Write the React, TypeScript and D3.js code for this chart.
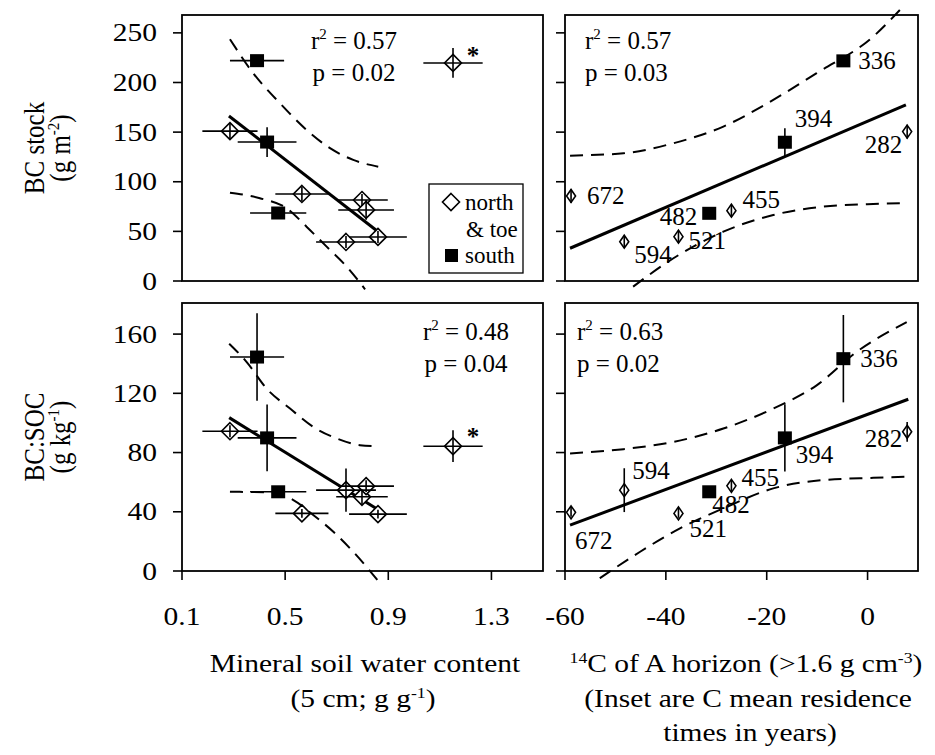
import React from "react";
import * as d3 from "d3";

const FONT = "'Liberation Serif','Times New Roman',Times,serif";
const AXIS_STRETCH = 1.18;

// ---------- Left column: sites vs mineral soil water content ----------
const siteAspect = ["south", "north", "south", "north", "north", "north", "south", "north", "north", "north"];
const siteOutlier = [false, false, false, false, false, false, false, false, false, true];
const waterContent = [0.391, 0.286, 0.43, 0.565, 0.798, 0.814, 0.473, 0.86, 0.736, 1.151];
const waterContentErr = [0.105, 0.107, 0.114, 0.103, 0.1, 0.108, 0.109, 0.112, 0.116, 0.115];
const bcStockW = [222, 151, 140, 87.7, 81.6, 71.6, 68.5, 44.4, 39.3, 219.7];
const bcStockWErr = [3, 8, 15, 7, 6, 10, 3, 6, 6, 15];
const bcSocW = [144.5, 94.4, 89.9, 38.9, 50.1, 57.3, 53.5, 38.4, 54.6, 84.3];
const bcSocWErr = [29.5, 4, 22.5, 3, 5, 4, 2, 3, 14.6, 10.7];

// ---------- Right column: sites vs 14C of A horizon ----------
const mrtLabels = ["336", "394", "282", "672", "482", "455", "521", "594"];
const c14Aspect = ["south", "south", "north", "north", "south", "north", "north", "north"];
const c14Value = [-4.8, -16.4, 7.85, -58.8, -31.4, -27.0, -37.5, -48.25];
const bcStockC = [221.8, 139.8, 150.5, 85.7, 68.2, 70.9, 44.7, 39.6];
const bcStockCErr = [3, 14, 7, 7, 3, 6, 6, 6];
const bcSocC = [143.4, 89.9, 94, 39.6, 53.5, 57.5, 38.9, 54.6];
const bcSocCErr = [29.5, 22.7, 6.7, 3, 2, 4, 3, 14.8];

// label placement (styling only): [dx, dy, anchor]
const mrtLabelPosTop: [number, number, string][] = [
  [15, 0, "start"], [10, -24, "start"], [-5, 13, "end"], [16, 0, "start"],
  [-12, 3, "end"], [11, -11, "start"], [10, 4, "start"], [10, 13, "start"],
];
const mrtLabelPosBottom: [number, number, string][] = [
  [17, 0, "start"], [11, 17, "start"], [-5, 7, "end"], [4, 28, "start"],
  [3, 13, "start"], [10, -8, "start"], [11, 15, "start"], [8, -20, "start"],
];

// ---------- Regression lines ----------
const fitStockWaterX = [0.282, 0.852];
const fitStockWaterY = [166.3, 51.4];
const fitStockC14X = [-59, 7.6];
const fitStockC14Y = [33, 177.4];
const fitSocWaterX = [0.283, 0.874];
const fitSocWaterY = [103.6, 40];
const fitSocC14X = [-59, 8.07];
const fitSocC14Y = [31, 116];

// ---------- Confidence bands ----------
const bandStockWaterUpX = [0.286, 0.376, 0.48, 0.583, 0.674, 0.764, 0.861];
const bandStockWaterUpY = [243.6, 209.4, 179.1, 152.2, 133.8, 122, 115.2];
const bandStockWaterLoX = [0.286, 0.402, 0.506, 0.583, 0.661, 0.739, 0.81];
const bandStockWaterLoY = [89, 83.4, 73.3, 54.7, 34.6, 14.4, -8.4];

const bandStockC14UpX = [-59, -48.4, -38.5, -28.6, -18.7, -10.1, 1.13, 6.4];
const bandStockC14UpY = [126.3, 128.7, 138.8, 155.6, 182.5, 209.4, 246.3, 273];
const bandStockC14LoX = [-46.5, -38.5, -28.6, -18.7, -8.8, 1.13, 6.77];
const bandStockC14LoY = [-5.7, 22.9, 49.7, 66.5, 74.9, 77.6, 78.3];

const bandSocWaterUpX = [0.283, 0.351, 0.428, 0.519, 0.609, 0.7, 0.79, 0.852];
const bandSocWaterUpY = [153.5, 141.1, 123.2, 109.7, 97.3, 89.5, 85, 84.3];
const bandSocWaterLoX = [0.286, 0.428, 0.532, 0.609, 0.687, 0.764, 0.861];
const bandSocWaterLoY = [53.5, 53.1, 47.9, 37.8, 26.5, 13, -6.7];

const bandSocC14UpX = [-59, -48.4, -38.5, -28.6, -18.7, -10.1, -2.2, 7.76];
const bandSocC14UpY = [79.4, 82.3, 87.2, 96.2, 109.7, 125.4, 147.9, 168.1];
const bandSocC14LoX = [-53.1, -45.1, -37.2, -28.6, -18.7, -8.8, 1.13, 7.42];
const bandSocC14LoY = [-4.9, 13, 28.8, 42.3, 55.8, 61.4, 62.9, 63.6];

// ---------- Ticks ----------
const stockTicks = [0, 50, 100, 150, 200, 250];
const socTicks = [0, 40, 80, 120, 160];
const waterTicks = [0.1, 0.5, 0.9, 1.3];
const c14Ticks = [-60, -40, -20, 0];

// ---------- Scales ----------
const xWater = d3.scaleLinear().domain([0.1, 1.5]).range([182, 543]);
const x14C = d3.scaleLinear().domain([-60, 10]).range([565, 918]);
const yStock = d3.scaleLinear().domain([0, 268]).range([281, 15]);
const ySoc = d3.scaleLinear().domain([0, 181]).range([571, 303]);

const zip = (xs: number[], ys: number[]) => xs.map((x, i) => [x, ys[i]] as [number, number]);

function pathOf(xs: number[], ys: number[], sx: any, sy: any, curve: any = d3.curveMonotoneX) {
  return d3.line<[number, number]>().x((d) => sx(d[0])).y((d) => sy(d[1])).curve(curve)(zip(xs, ys)) || "";
}

function AxisText({ x, y, anchor = "middle", rotate = false, children, size = 25 }: any) {
  const tr = `translate(${x},${y}) scale(${AXIS_STRETCH},1)${rotate ? " rotate(-90)" : ""}`;
  return (
    <text transform={tr} textAnchor={anchor} fontFamily={FONT} fontSize={size} fill="#000">
      {children}
    </text>
  );
}

function Marker({ cx, cy, kind, small }: any) {
  if (kind === "south") {
    return <rect x={cx - 7} y={cy - 6.5} width={14} height={13} fill="#000" />;
  }
  const hw = small ? 4.5 : 8.5;
  const hh = small ? 6.5 : 8.5;
  return (
    <path
      d={`M${cx},${cy - hh}L${cx + hw},${cy}L${cx},${cy + hh}L${cx - hw},${cy}Z`}
      fill="#fff"
      stroke="#000"
      strokeWidth={1.6}
    />
  );
}

function Panel({ sx, sy, xs, ys, xerr, yerr, kinds, small, fitX, fitY, upX, upY, loX, loY, yTicks, xTicks }: any) {
  const [x0, x1] = sx.range();
  const [y0, y1] = sy.range(); // y0 bottom, y1 top
  return (
    <g>
      <rect x={x0} y={y1} width={x1 - x0} height={y0 - y1} fill="none" stroke="#000" strokeWidth={1.8} />
      {yTicks.map((t: number) => (
        <line key={"yt" + t} x1={x0 - 9} x2={x0} y1={sy(t)} y2={sy(t)} stroke="#000" strokeWidth={1.6} />
      ))}
      {xTicks &&
        xTicks.map((t: number) => (
          <line key={"xt" + t} x1={sx(t)} x2={sx(t)} y1={y0} y2={y0 + 9} stroke="#000" strokeWidth={1.6} />
        ))}
      <path d={pathOf(upX, upY, sx, sy)} fill="none" stroke="#000" strokeWidth={2} strokeDasharray="13 8" />
      <path d={pathOf(loX, loY, sx, sy)} fill="none" stroke="#000" strokeWidth={2} strokeDasharray="13 8" />
      <path d={pathOf(fitX, fitY, sx, sy, d3.curveLinear)} fill="none" stroke="#000" strokeWidth={3} />
      {xs.map((xv: number, i: number) => (
        <Marker key={"m" + i} cx={sx(xv)} cy={sy(ys[i])} kind={kinds[i]} small={small} />
      ))}
      {xs.map((xv: number, i: number) => (
        <g key={"e" + i} stroke="#000" strokeWidth={1.6}>
          {xerr && (
            <line x1={sx(xv - xerr[i])} x2={sx(xv + xerr[i])} y1={sy(ys[i])} y2={sy(ys[i])} />
          )}
          {yerr && (
            <line x1={sx(xv)} x2={sx(xv)} y1={sy(ys[i] - yerr[i])} y2={sy(ys[i] + yerr[i])} />
          )}
        </g>
      ))}
    </g>
  );
}

function Stat({ x, y, anchor, r2, p }: any) {
  return (
    <g fontFamily={FONT} fontSize={25} fill="#000">
      <text x={x} y={y} textAnchor={anchor}>
        r<tspan dy={-10} fontSize={15}>2</tspan>
        <tspan dy={10}>{" = " + r2}</tspan>
      </text>
      <text x={x} y={y + 32} textAnchor={anchor}>
        {"p = " + p}
      </text>
    </g>
  );
}

export default function App() {
  return (
    <svg
      width={935}
      height={755}
      style={{ position: "absolute", left: 0, top: 0, background: "#fff" }}
    >
      <rect x={0} y={0} width={935} height={755} fill="#fff" />
      {/* Top-left */}
      <Panel
        sx={xWater} sy={yStock} xs={waterContent} ys={bcStockW} xerr={waterContentErr} yerr={bcStockWErr}
        kinds={siteAspect} small={false} fitX={fitStockWaterX} fitY={fitStockWaterY}
        upX={bandStockWaterUpX} upY={bandStockWaterUpY} loX={bandStockWaterLoX} loY={bandStockWaterLoY}
        yTicks={stockTicks} xTicks={null}
      />
      {/* Top-right */}
      <Panel
        sx={x14C} sy={yStock} xs={c14Value} ys={bcStockC} xerr={null} yerr={bcStockCErr}
        kinds={c14Aspect} small={true} fitX={fitStockC14X} fitY={fitStockC14Y}
        upX={bandStockC14UpX} upY={bandStockC14UpY} loX={bandStockC14LoX} loY={bandStockC14LoY}
        yTicks={stockTicks} xTicks={null}
      />
      {/* Bottom-left */}
      <Panel
        sx={xWater} sy={ySoc} xs={waterContent} ys={bcSocW} xerr={waterContentErr} yerr={bcSocWErr}
        kinds={siteAspect} small={false} fitX={fitSocWaterX} fitY={fitSocWaterY}
        upX={bandSocWaterUpX} upY={bandSocWaterUpY} loX={bandSocWaterLoX} loY={bandSocWaterLoY}
        yTicks={socTicks} xTicks={waterTicks}
      />
      {/* Bottom-right */}
      <Panel
        sx={x14C} sy={ySoc} xs={c14Value} ys={bcSocC} xerr={null} yerr={bcSocCErr}
        kinds={c14Aspect} small={true} fitX={fitSocC14X} fitY={fitSocC14Y}
        upX={bandSocC14UpX} upY={bandSocC14UpY} loX={bandSocC14LoX} loY={bandSocC14LoY}
        yTicks={socTicks} xTicks={c14Ticks}
      />

      {/* Y tick labels */}
      {stockTicks.map((t) => (
        <AxisText key={"sl" + t} x={157} y={yStock(t) + 8.5} anchor="end">{String(t)}</AxisText>
      ))}
      {socTicks.map((t) => (
        <AxisText key={"cl" + t} x={157} y={ySoc(t) + 8.5} anchor="end">{String(t)}</AxisText>
      ))}
      {/* X tick labels */}
      {waterTicks.map((t) => (
        <AxisText key={"wl" + t} x={xWater(t)} y={625}>{d3.format(".1f")(t)}</AxisText>
      ))}
      {c14Ticks.map((t) => (
        <AxisText key={"kl" + t} x={x14C(t)} y={625}>{String(t)}</AxisText>
      ))}

      {/* Y axis titles */}
      <AxisText x={44} y={(yStock.range()[0] + yStock.range()[1]) / 2} rotate>BC stock</AxisText>
      <AxisText x={70} y={(yStock.range()[0] + yStock.range()[1]) / 2} rotate>
        (g m<tspan dy={-9} fontSize={15}>-2</tspan><tspan dy={9}>)</tspan>
      </AxisText>
      <AxisText x={44} y={(ySoc.range()[0] + ySoc.range()[1]) / 2} rotate>BC:SOC</AxisText>
      <AxisText x={70} y={(ySoc.range()[0] + ySoc.range()[1]) / 2} rotate>
        (g kg<tspan dy={-9} fontSize={15}>-1</tspan><tspan dy={9}>)</tspan>
      </AxisText>

      {/* X axis titles */}
      <AxisText x={365} y={672}>Mineral soil water content</AxisText>
      <AxisText x={363} y={707}>
        (5 cm; g g<tspan dy={-9} fontSize={15}>-1</tspan><tspan dy={9}>)</tspan>
      </AxisText>
      <AxisText x={746} y={672}>
        <tspan dy={-9} fontSize={15}>14</tspan><tspan dy={9}>C of A horizon (&gt;1.6 g cm</tspan>
        <tspan dy={-9} fontSize={15}>-3</tspan><tspan dy={9}>)</tspan>
      </AxisText>
      <AxisText x={748} y={707}>(Inset are C mean residence</AxisText>
      <AxisText x={750} y={741}>times in years)</AxisText>

      {/* Stats */}
      <Stat x={354} y={49} anchor="middle" r2="0.57" p="0.02" />
      <Stat x={585} y={49} anchor="start" r2="0.57" p="0.03" />
      <Stat x={466} y={340} anchor="middle" r2="0.48" p="0.04" />
      <Stat x={577} y={340} anchor="start" r2="0.63" p="0.02" />

      {/* Outlier asterisks */}
      {waterContent.map((xv, i) =>
        siteOutlier[i] ? (
          <g key={"ast" + i} fontFamily={FONT} fontSize={25} fontWeight="bold">
            <text x={xWater(xv) + 20} y={yStock(bcStockW[i]) + 1} textAnchor="middle">*</text>
            <text x={xWater(xv) + 20} y={ySoc(bcSocW[i]) - 1} textAnchor="middle">*</text>
          </g>
        ) : null
      )}

      {/* MRT labels */}
      {c14Value.map((xv, i) => (
        <g key={"lab" + i} fontFamily={FONT} fontSize={25}>
          <text
            x={x14C(xv) + mrtLabelPosTop[i][0]}
            y={yStock(bcStockC[i]) + mrtLabelPosTop[i][1] + 8.5}
            textAnchor={mrtLabelPosTop[i][2] as any}
          >
            {mrtLabels[i]}
          </text>
          <text
            x={x14C(xv) + mrtLabelPosBottom[i][0]}
            y={ySoc(bcSocC[i]) + mrtLabelPosBottom[i][1] + 8.5}
            textAnchor={mrtLabelPosBottom[i][2] as any}
          >
            {mrtLabels[i]}
          </text>
        </g>
      ))}

      {/* Legend */}
      <g>
        <rect x={429} y={184} width={94} height={89} fill="#fff" stroke="#000" strokeWidth={1.3} />
        <Marker cx={451} cy={202} kind="north" small={false} />
        <rect x={445} y={249} width={13} height={13} fill="#000" />
        <g fontFamily={FONT} fontSize={23}>
          <text x={465} y={210}>north</text>
          <text x={466} y={237}>&amp; toe</text>
          <text x={465} y={263}>south</text>
        </g>
      </g>
    </svg>
  );
}
